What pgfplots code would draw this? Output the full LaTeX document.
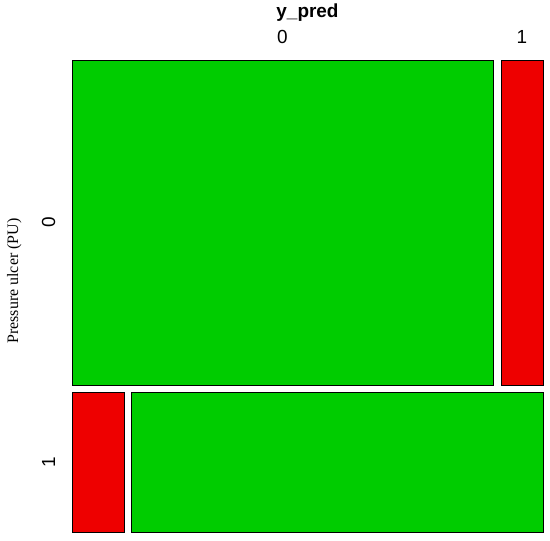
\documentclass[border=0pt]{standalone}
\usepackage{fontspec}
\setmainfont{Liberation Serif}
\newfontfamily\arial{Liberation Sans}
\usepackage{pgfplots}
\pgfplotsset{compat=1.18}
\definecolor{mgreen}{HTML}{00CC00}
\definecolor{mred}{HTML}{EE0000}
\begin{document}
\begin{tikzpicture}
\begin{axis}[
  scale only axis, width=550bp, height=540bp,
  xmin=0, xmax=550, ymin=0, ymax=540, y dir=reverse,
  axis lines=none, ticks=none, clip=false,
]
% frame of the picture (invisible)
\addplot[draw=none, forget plot] coordinates {(0,0) (550,0) (550,540) (0,540)};
% top row: PU = 0
\addplot[fill=mgreen, draw=black, line width=0.9pt] coordinates {(72,60) (493,60) (493,385) (72,385)} -- cycle;
\addplot[fill=mred, draw=black, line width=0.9pt] coordinates {(501,60) (543,60) (543,385) (501,385)} -- cycle;
% bottom row: PU = 1
\addplot[fill=mred, draw=black, line width=0.9pt] coordinates {(72,392) (124,392) (124,532) (72,532)} -- cycle;
\addplot[fill=mgreen, draw=black, line width=0.9pt] coordinates {(131,392) (543,392) (543,532) (131,532)} -- cycle;
% labels
\node[anchor=base, font=\arial\bfseries\fontsize{19}{21}\selectfont] at (axis cs:307.5,17) {y\_pred};
\node[anchor=base, font=\arial\fontsize{19}{21}\selectfont] at (axis cs:282.5,43) {0};
\node[anchor=base, font=\arial\fontsize{19}{21}\selectfont] at (axis cs:522,43) {1};
\node[anchor=base, rotate=90, font=\arial\fontsize{19}{21}\selectfont] at (axis cs:55,222.5) {0};
\node[anchor=base, rotate=90, font=\arial\fontsize{19}{21}\selectfont] at (axis cs:55,462) {1};
\node[anchor=base, rotate=90, font=\fontsize{16}{18}\selectfont] at (axis cs:18,281) {Pressure ulcer (PU)};
\end{axis}
\end{tikzpicture}
\end{document}
